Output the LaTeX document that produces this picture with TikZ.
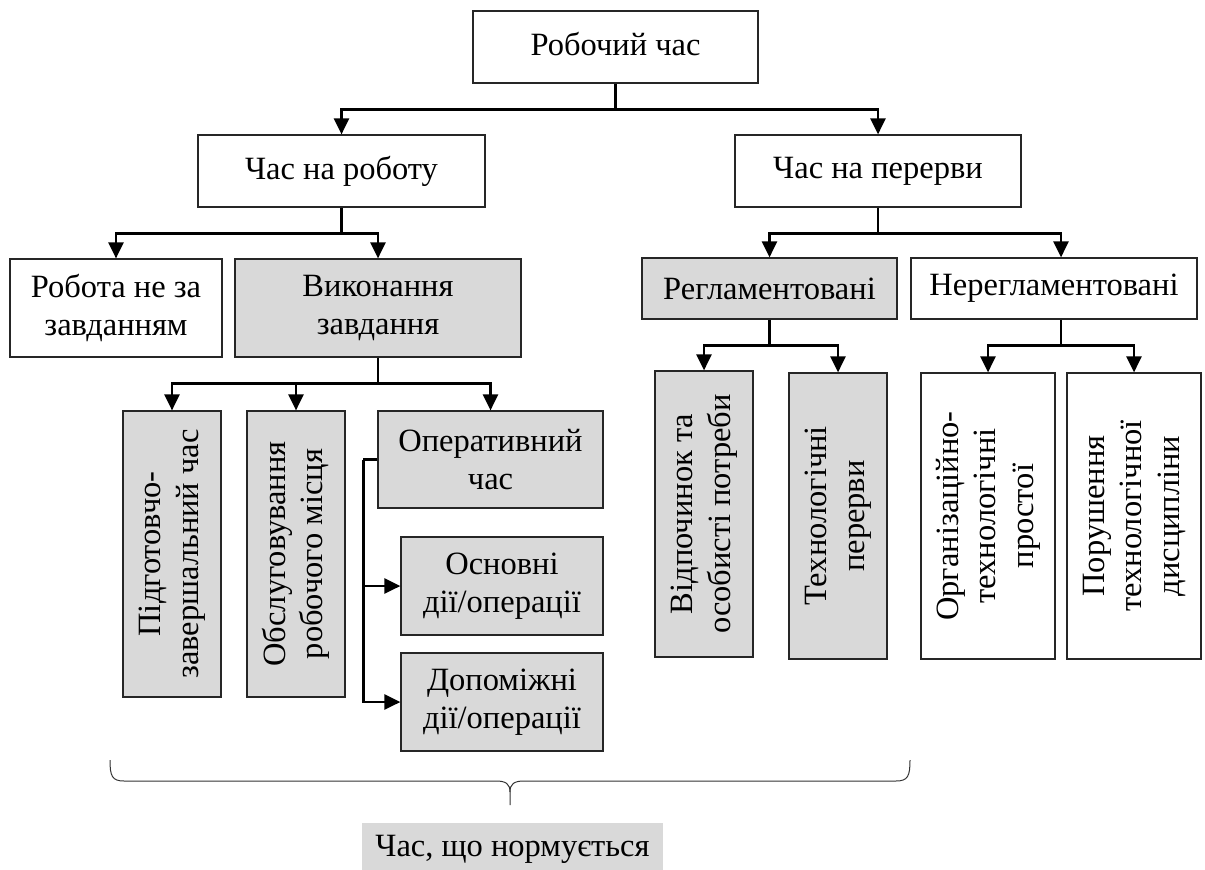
\documentclass[tikz,border=0pt]{standalone}
\usepackage{fontspec}
\setmainfont{Liberation Serif}
\usetikzlibrary{arrows.meta,calc}
\definecolor{boxgray}{HTML}{D9D9D9}
\begin{document}
\begin{tikzpicture}[x=1pt,y=-1pt,
  box/.style={draw=black!85, line width=1.2pt, inner sep=0pt, align=center,
    font=\fontsize{32.5}{37.5}\selectfont},
  gbox/.style={box, fill=boxgray},
  conn/.style={line width=2.6pt, black},
  arr/.style={conn, -{Triangle[width=15pt,length=16pt]}},
  brace/.style={line width=1pt, black!80},
  labelbox/.style={fill=boxgray, inner sep=0pt, minimum width=301pt, minimum height=52pt,
    font=\fontsize{32.5}{37.5}\selectfont}
]
\useasboundingbox (0,0) rectangle (1205,870);

% level 0
\node[box, minimum width=285pt, minimum height=72pt] (top) at (615.5,47) {\raisebox{6pt}{Робочий час}};
% level 1
\node[box, minimum width=287pt, minimum height=72pt] (work) at (341.5,171) {Час на роботу};
\node[box, minimum width=286pt, minimum height=72pt] (brk) at (878,171) {Час на перерви};
% level 2
\node[box, minimum width=212pt, minimum height=98pt] (nz) at (116,308) {Робота не за\\завданням};
\node[gbox, minimum width=286pt, minimum height=98pt] (vyk) at (378,308) {Виконання\\завдання};
\node[gbox, minimum width=255pt, minimum height=61pt] (reg) at (769.5,288.5) {Регламентовані};
\node[box, minimum width=286pt, minimum height=61pt] (nreg) at (1054,288.5) {Нерегламентовані};
% level 3
\node[gbox, rotate=90, minimum width=286pt, minimum height=98pt] (pid) at (172,554) {Підготовчо-\\завершальний час};
\node[gbox, rotate=90, minimum width=286pt, minimum height=98pt] (obs) at (296,554) {Обслуговування\\робочого місця};
\node[gbox, minimum width=225pt, minimum height=97pt] (oper) at (490.5,459.5) {Оперативний\\час};
\node[gbox, minimum width=202pt, minimum height=98pt] (osn) at (502,586) {Основні\\дії/операції};
\node[gbox, minimum width=202pt, minimum height=98pt] (dop) at (502,702) {Допоміжні\\дії/операції};
\node[gbox, rotate=90, minimum width=286pt, minimum height=98pt] (vidp) at (704,514) {Відпочинок та\\особисті потреби};
\node[gbox, rotate=90, minimum width=286pt, minimum height=98pt] (tech) at (838,516) {Технологічні\\перерви};
\node[box, rotate=90, minimum width=286pt, minimum height=134pt] (org) at (988,516) {Організаційно-\\технологічні\\простої};
\node[box, rotate=90, minimum width=286pt, minimum height=134pt] (por) at (1134,516) {Порушення\\технологічної\\дисципліни};

% connectors
\coordinate (j1) at ($(top.south)+(0,26)$);
\draw[conn] (top.south) -- (j1);
\draw[arr] (j1) -| (work.north);
\draw[arr] (j1) -| (brk.north);

\coordinate (j2) at ($(work.south)+(0,26)$);
\draw[conn] (work.south) -- (j2);
\draw[arr] (j2) -| (nz.north);
\draw[arr] (j2) -| (vyk.north);

\coordinate (j3) at ($(brk.south)+(0,26)$);
\draw[conn] (brk.south) -- (j3);
\draw[arr] (j3) -| (reg.north);
\draw[arr] (j3) -| ([xshift=7pt]nreg.north);

\coordinate (j4) at ($(vyk.south)+(0,26)$);
\draw[conn] (vyk.south) -- (j4);
\draw[arr] (j4) -| (pid.east);
\draw[arr] (j4) -| (obs.east);
\draw[arr] (j4) -| (oper.north);

\coordinate (j5) at ($(reg.south)+(0,26)$);
\draw[conn] (reg.south) -- (j5);
\draw[arr] (j5) -| (vidp.east);
\draw[arr] (j5) -| (tech.east);

\coordinate (j6) at ($([xshift=7pt]nreg.south)+(0,26)$);
\draw[conn] ([xshift=7pt]nreg.south) -- (j6);
\draw[arr] (j6) -| (org.east);
\draw[arr] (j6) -| (por.east);

\coordinate (b1) at ($(oper.west)+(-14,0)$);
\draw[conn] (oper.west) -- (b1);
\draw[arr] (b1) |- (dop.west);
\draw[arr] (b1 |- osn.west) -- (osn.west);

% brace
\draw[brace] (110,760) .. controls (110,776) and (112,781) .. (124,781) -- (496,781)
  .. controls (506,781) and (510,784) .. (510,792) -- (510,805);
\draw[brace] (510,792) .. controls (510,784) and (514,781) .. (524,781) -- (896,781)
  .. controls (908,781) and (910,776) .. (910,760);

% label
\node[labelbox] (lab) at (512.5,849) {Час, що нормується};
\end{tikzpicture}
\end{document}
